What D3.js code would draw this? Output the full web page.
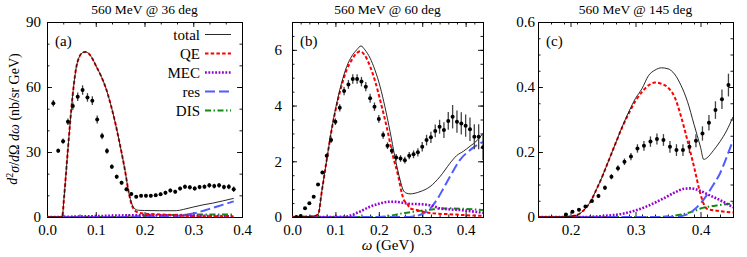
<!DOCTYPE html>
<html lang="en">
<head>
<meta charset="utf-8">
<title>560 MeV cross sections</title>
<script src="https://d3js.org/d3.v7.min.js"></script>
<style>
  body { margin: 0; background: #fff; }
  text { font-family: "Liberation Serif", "DejaVu Serif", serif; fill: #000; }
</style>
</head>
<body>
<script>

// ---- data ----
// experimental points: [omega, value, error]
var expA = [[0.013,52.5,1.5],[0.023,30.6,1.0],[0.033,35.0,1.2],[0.043,44.0,1.5],[0.053,51.2,1.8],[0.063,55.5,2.0],[0.073,58.6,2.2],[0.083,55.2,2.0],[0.093,53.7,2.0],[0.103,45.0,1.8],[0.113,37.4,1.5],[0.123,30.5,1.3],[0.133,23.2,1.1],[0.143,18.6,1.0],[0.153,15.8,0.9],[0.163,12.8,0.9],[0.173,10.6,0.8],[0.183,9.4,0.8],[0.193,9.8,0.8],[0.203,9.8,0.8],[0.213,9.8,0.8],[0.223,10.0,0.8],[0.233,10.5,0.8],[0.243,11.2,0.9],[0.253,12.2,0.9],[0.263,11.7,0.9],[0.273,13.1,0.9],[0.283,14.0,1.0],[0.293,13.7,1.0],[0.303,13.2,1.0],[0.313,13.8,1.0],[0.323,14.0,1.0],[0.333,14.6,1.1],[0.343,14.3,1.1],[0.353,14.6,1.1],[0.363,13.8,1.1],[0.373,14.0,1.2],[0.383,12.8,1.3]];

var expB = [[0.01,0.0,0.02],[0.02,0.04,0.02],[0.03,0.31,0.03],[0.04,0.49,0.03],[0.05,0.73,0.04],[0.06,1.17,0.05],[0.07,1.6,0.06],[0.08,2.2,0.08],[0.09,2.76,0.1],[0.10,3.42,0.12],[0.11,3.92,0.13],[0.12,4.52,0.15],[0.13,4.76,0.16],[0.14,4.95,0.17],[0.15,4.95,0.17],[0.16,4.86,0.17],[0.17,4.68,0.17],[0.18,4.26,0.16],[0.19,3.96,0.15],[0.20,3.52,0.14],[0.21,2.94,0.13],[0.22,2.56,0.12],[0.23,2.38,0.12],[0.24,2.14,0.12],[0.25,2.1,0.12],[0.26,2.04,0.12],[0.27,2.2,0.13],[0.28,2.25,0.14],[0.29,2.32,0.15],[0.30,2.52,0.17],[0.31,2.76,0.19],[0.32,2.86,0.2],[0.33,3.09,0.23],[0.34,3.24,0.25],[0.35,3.12,0.28],[0.36,3.45,0.32],[0.37,3.6,0.42],[0.38,3.42,0.4],[0.39,3.36,0.4],[0.40,3.28,0.4],[0.41,3.15,0.42],[0.42,2.88,0.45],[0.43,2.88,0.45],[0.44,2.5,0.45]];

var expC = [[0.193,0.008,0.004],[0.203,0.016,0.004],[0.213,0.022,0.004],[0.223,0.032,0.005],[0.233,0.049,0.005],[0.243,0.065,0.006],[0.253,0.09,0.007],[0.263,0.124,0.008],[0.273,0.15,0.009],[0.283,0.17,0.01],[0.293,0.186,0.011],[0.303,0.211,0.013],[0.313,0.219,0.015],[0.323,0.232,0.016],[0.333,0.24,0.017],[0.343,0.237,0.018],[0.353,0.216,0.018],[0.363,0.206,0.018],[0.373,0.206,0.018],[0.383,0.216,0.019],[0.393,0.235,0.02],[0.403,0.257,0.022],[0.413,0.29,0.024],[0.423,0.329,0.027],[0.433,0.362,0.03],[0.443,0.406,0.035]];

// model curves: [omega, value]
var totalA = [[0,0],[0.031,0],[0.035,9],[0.040,23],[0.045,37],[0.050,50],[0.055,61],[0.060,69],[0.065,73.2],[0.070,75.3],[0.078,76.2],[0.085,75.6],[0.092,73.5],[0.100,70],[0.110,65.5],[0.120,60],[0.130,52.5],[0.140,43.5],[0.150,33],[0.160,21.5],[0.168,11],[0.174,6],[0.180,3.8],[0.188,3.1],[0.200,3.0],[0.230,2.9],[0.265,2.9],[0.280,3.5],[0.300,4.6],[0.320,5.6],[0.340,6.4],[0.360,7.4],[0.383,8.6]];
var qeA = [[0,0],[0.031,0],[0.035,9],[0.040,23],[0.045,37],[0.050,50],[0.055,61],[0.060,69],[0.065,73.2],[0.070,75.3],[0.078,76.2],[0.085,75.6],[0.092,73.5],[0.100,70],[0.110,65.5],[0.120,60],[0.130,52.5],[0.140,43.5],[0.150,33],[0.160,21.5],[0.168,11],[0.174,5.5],[0.180,3.0],[0.188,2.0],[0.200,1.6],[0.220,1.3],[0.250,1.0],[0.280,0.6],[0.310,0.4],[0.350,0.3],[0.383,0.2]];
var mecA = [[0,0],[0.03,0.05],[0.06,0.2],[0.1,0.4],[0.15,0.7],[0.2,0.85],[0.25,0.8],[0.3,0.6],[0.35,0.4],[0.383,0.3]];
var resA = [[0,0],[0.2,0],[0.24,0.2],[0.27,0.6],[0.3,1.6],[0.33,3.5],[0.36,5.6],[0.383,7.2]];
var disA = [[0,0],[0.15,0.05],[0.2,0.4],[0.25,0.9],[0.3,1.1],[0.35,1.2],[0.383,1.2]];

var totalB = [[0,0],[0.04,0.02],[0.055,0.05],[0.061,0.13],[0.068,0.85],[0.08,2.05],[0.091,3.12],[0.103,4.08],[0.114,4.8],[0.126,5.4],[0.138,5.78],[0.149,6.0],[0.159,6.14],[0.168,6.0],[0.18,5.7],[0.191,5.28],[0.203,4.68],[0.214,3.96],[0.226,3.06],[0.237,2.16],[0.249,1.33],[0.256,0.97],[0.263,0.86],[0.272,0.83],[0.295,0.91],[0.318,1.09],[0.341,1.45],[0.364,1.93],[0.379,2.2],[0.395,2.36],[0.41,2.54],[0.426,2.74],[0.44,3.0]];
var qeB = [[0,0],[0.04,0.02],[0.055,0.05],[0.061,0.13],[0.068,0.85],[0.08,2.05],[0.091,3.1],[0.103,4.02],[0.114,4.7],[0.126,5.28],[0.138,5.65],[0.149,5.88],[0.157,5.95],[0.168,5.8],[0.18,5.4],[0.192,4.85],[0.203,4.2],[0.218,3.24],[0.233,2.16],[0.245,1.45],[0.253,0.85],[0.258,0.6],[0.265,0.49],[0.272,0.31],[0.288,0.25],[0.303,0.19],[0.326,0.13],[0.364,0.1],[0.395,0.07],[0.44,0.04]];
var mecB = [[0,0],[0.1,0],[0.126,0.02],[0.153,0.17],[0.18,0.37],[0.203,0.49],[0.226,0.55],[0.249,0.53],[0.272,0.47],[0.295,0.46],[0.318,0.42],[0.341,0.31],[0.365,0.27],[0.387,0.25],[0.41,0.21],[0.44,0.15]];
var resB = [[0,0],[0.27,0],[0.29,0.05],[0.303,0.13],[0.318,0.3],[0.333,0.6],[0.349,1.03],[0.364,1.45],[0.387,2.05],[0.41,2.4],[0.433,2.64],[0.44,2.7]];
var disB = [[0,0],[0.2,0],[0.23,0.05],[0.249,0.12],[0.272,0.17],[0.295,0.22],[0.318,0.26],[0.341,0.3],[0.364,0.31],[0.4,0.29],[0.44,0.25]];

var totalC = [[0.15,0],[0.19,0],[0.2,0.002],[0.21,0.006],[0.22,0.02],[0.23,0.045],[0.24,0.085],[0.25,0.13],[0.26,0.18],[0.27,0.23],[0.28,0.28],[0.29,0.325],[0.30,0.365],[0.31,0.395],[0.32,0.435],[0.33,0.452],[0.34,0.459],[0.35,0.456],[0.36,0.44],[0.37,0.405],[0.38,0.355],[0.39,0.285],[0.40,0.215],[0.405,0.177],[0.41,0.182],[0.42,0.205],[0.43,0.232],[0.44,0.265],[0.45,0.308]];
var qeC = [[0.15,0],[0.19,0],[0.2,0.002],[0.21,0.006],[0.22,0.02],[0.23,0.045],[0.24,0.085],[0.25,0.13],[0.26,0.18],[0.27,0.23],[0.28,0.278],[0.29,0.32],[0.30,0.357],[0.31,0.385],[0.32,0.405],[0.33,0.414],[0.34,0.41],[0.35,0.398],[0.36,0.37],[0.37,0.31],[0.38,0.235],[0.39,0.155],[0.40,0.07],[0.405,0.04],[0.41,0.025],[0.43,0.018],[0.45,0.014]];
var mecC = [[0.15,0],[0.22,0],[0.25,0.003],[0.28,0.01],[0.30,0.02],[0.32,0.035],[0.34,0.054],[0.36,0.075],[0.375,0.087],[0.385,0.088],[0.40,0.08],[0.415,0.066],[0.43,0.052],[0.45,0.03]];
var resC = [[0.15,0],[0.36,0],[0.375,0.005],[0.39,0.022],[0.40,0.042],[0.41,0.068],[0.42,0.1],[0.43,0.134],[0.44,0.183],[0.45,0.236]];
var disC = [[0.15,0],[0.33,0],[0.36,0.004],[0.38,0.012],[0.39,0.018],[0.40,0.026],[0.41,0.031],[0.43,0.037],[0.45,0.042]];

// titles and ticks
var titles = ["560 MeV @ 36 deg", "560 MeV @ 60 deg", "560 MeV @ 145 deg"];
var panelTags = ["(a)", "(b)", "(c)"];
var xTicksA = [0, 0.1, 0.2, 0.3, 0.4], xLabelsA = ["0.0", "0.1", "0.2", "0.3", "0.4"];
var xTicksB = [0, 0.1, 0.2, 0.3, 0.4], xLabelsB = ["0.0", "0.1", "0.2", "0.3", "0.4"];
var xTicksC = [0.2, 0.3, 0.4], xLabelsC = ["0.2", "0.3", "0.4"];
var yTicksA = [0, 30, 60, 90], yLabelsA = ["0", "30", "60", "90"];
var yTicksB = [0, 2, 4, 6], yLabelsB = ["0", "2", "4", "6"];
var yTicksC = [0, 0.2, 0.4, 0.6], yLabelsC = ["0", "0.2", "0.4", "0.6"];
var legendNames = ["total", "QE", "MEC", "res", "DIS"];

// ---- drawing ----
var width = 747, height = 257;
var plotTop = 22, plotBottom = 217;

var styles = {
  total: {color: "#111", w: 0.9, dash: null},
  QE:    {color: "#ff0000", w: 2, dash: "3.5,2.2"},
  MEC:   {color: "#9400d3", w: 2.6, dash: "1.8,1.6"},
  res:   {color: "#4f5cff", w: 2, dash: "10,4"},
  DIS:   {color: "#138a13", w: 2, dash: "6,2.5,1.5,2.5"}
};

var panels = [
  {x0: 47, x1: 242, xdom: [0, 0.4], ydom: [0, 90], xt: xTicksA, xl: xLabelsA, xminor: 0.1/3,
   yt: yTicksA, yl: yLabelsA, yminor: 10, ypad: 6, exp: expA,
   curves: {total: totalA, QE: qeA, MEC: mecA, res: resA, DIS: disA}},
  {x0: 292, x1: 483, xdom: [0, 0.44], ydom: [0, 7], xt: xTicksB, xl: xLabelsB, xminor: 0.02,
   yt: yTicksB, yl: yLabelsB, yminor: 0.5, ypad: 10, exp: expB,
   curves: {total: totalB, QE: qeB, MEC: mecB, res: resB, DIS: disB}},
  {x0: 538, x1: 733, xdom: [0.15, 0.45], ydom: [0, 0.6], xt: xTicksC, xl: xLabelsC, xminor: 0.02,
   yt: yTicksC, yl: yLabelsC, yminor: 0.05, ypad: 3, exp: expC,
   curves: {total: totalC, QE: qeC, MEC: mecC, res: resC, DIS: disC}}
];

var svg = d3.select("body").append("svg")
  .attr("width", width)
  .attr("height", height);

function minorValues(dom, step) {
  var out = [];
  for (var v = dom[0]; v <= dom[1] + 1e-9; v += step) out.push(+v.toFixed(6));
  return out;
}

panels.forEach(function(p, i) {
  var x = d3.scaleLinear().domain(p.xdom).range([p.x0, p.x1]);
  var y = d3.scaleLinear().domain(p.ydom).range([plotBottom, plotTop]);
  var g = svg.append("g");

  // clip
  svg.append("clipPath").attr("id", "clip" + i)
    .append("rect").attr("x", p.x0).attr("y", plotTop)
    .attr("width", p.x1 - p.x0).attr("height", plotBottom - plotTop);

  // minor ticks on all four sides
  var xm = minorValues(p.xdom, p.xminor), ym = minorValues(p.ydom, p.yminor);
  g.append("g").attr("transform", "translate(0," + plotBottom + ")")
    .call(d3.axisBottom(x).tickValues(xm).tickSize(-2.5).tickFormat(""));
  g.append("g").attr("transform", "translate(0," + plotTop + ")")
    .call(d3.axisTop(x).tickValues(xm).tickSize(-2.5).tickFormat(""));
  g.append("g").attr("transform", "translate(" + p.x0 + ",0)")
    .call(d3.axisLeft(y).tickValues(ym).tickSize(-2.5).tickFormat(""));
  g.append("g").attr("transform", "translate(" + p.x1 + ",0)")
    .call(d3.axisRight(y).tickValues(ym).tickSize(-2.5).tickFormat(""));

  // major ticks + labels
  g.append("g").attr("transform", "translate(0," + plotBottom + ")")
    .call(d3.axisBottom(x).tickValues(p.xt).tickSize(-5).tickPadding(7)
      .tickFormat(function(d, k) { return p.xl[k]; }));
  g.append("g").attr("transform", "translate(0," + plotTop + ")")
    .call(d3.axisTop(x).tickValues(p.xt).tickSize(-5).tickFormat(""));
  g.append("g").attr("transform", "translate(" + p.x0 + ",0)")
    .call(d3.axisLeft(y).tickValues(p.yt).tickSize(-5).tickPadding(p.ypad)
      .tickFormat(function(d, k) { return p.yl[k]; }));
  g.append("g").attr("transform", "translate(" + p.x1 + ",0)")
    .call(d3.axisRight(y).tickValues(p.yt).tickSize(-5).tickFormat(""));

  g.selectAll(".domain").remove();
  g.selectAll(".tick line").attr("stroke", "#000").attr("stroke-width", 0.9);
  g.selectAll(".tick text").style("font-family", "Liberation Serif").style("font-size", "15px").attr("fill", "#000");

  // frame
  g.append("rect")
    .attr("x", p.x0 + 0.5).attr("y", plotTop + 0.5)
    .attr("width", p.x1 - p.x0).attr("height", plotBottom - plotTop)
    .attr("fill", "none").attr("stroke", "#000").attr("stroke-width", 1);

  // model curves
  var line = d3.line()
    .x(function(d) { return x(d[0]); })
    .y(function(d) { return y(d[1]); })
    .curve(d3.curveMonotoneX);

  var cg = g.append("g").attr("clip-path", "url(#clip" + i + ")");
  ["DIS", "res", "MEC", "QE", "total"].forEach(function(k) {
    cg.append("path")
      .attr("d", line(p.curves[k]))
      .attr("fill", "none")
      .attr("stroke", styles[k].color)
      .attr("stroke-width", styles[k].w)
      .attr("stroke-dasharray", styles[k].dash);
  });

  // experimental points with error bars
  cg.selectAll(".err").data(p.exp).enter().append("line")
    .attr("x1", function(d) { return x(d[0]); })
    .attr("x2", function(d) { return x(d[0]); })
    .attr("y1", function(d) { return y(d[1] - d[2]); })
    .attr("y2", function(d) { return y(d[1] + d[2]); })
    .attr("stroke", "#444").attr("stroke-width", 1.3);
  cg.selectAll(".pt").data(p.exp).enter().append("circle")
    .attr("cx", function(d) { return x(d[0]); })
    .attr("cy", function(d) { return y(d[1]); })
    .attr("r", 2)
    .attr("fill", "#000");

  // title and tag
  svg.append("text")
    .attr("x", (p.x0 + p.x1) / 2).attr("y", 14)
    .attr("text-anchor", "middle")
    .style("font-size", "13.5px")
    .text(titles[i]);
  svg.append("text")
    .attr("x", p.x0 + 8).attr("y", 46)
    .style("font-size", "15px")
    .text(panelTags[i]);

  // legend in the first panel
  if (i === 0) {
    legendNames.forEach(function(name, k) {
      var ly = 34.5 + k * 19;
      svg.append("text")
        .attr("x", 200).attr("y", ly + 5)
        .attr("text-anchor", "end")
        .style("font-size", "15px")
        .text(name);
      svg.append("line")
        .attr("x1", 205).attr("x2", 231)
        .attr("y1", ly).attr("y2", ly)
        .attr("stroke", styles[name].color)
        .attr("stroke-width", styles[name].w)
        .attr("stroke-dasharray", styles[name].dash);
    });
  }
});

// axis titles
var ylab = svg.append("text")
  .attr("transform", "translate(17,119) rotate(-90)")
  .attr("text-anchor", "middle")
  .style("font-size", "14px");
ylab.append("tspan").style("font-style", "italic").text("d");
ylab.append("tspan").attr("dy", "-0.45em").style("font-size", "10px").text("2");
ylab.append("tspan").attr("dy", "0.45em").style("font-style", "italic").text("σ");
ylab.append("tspan").text("/");
ylab.append("tspan").style("font-style", "italic").text("d");
ylab.append("tspan").text("Ω ");
ylab.append("tspan").style("font-style", "italic").text("dω");
ylab.append("tspan").text(" (nb/sr GeV)");

var xlab = svg.append("text")
  .attr("x", 388).attr("y", 250)
  .attr("text-anchor", "middle")
  .style("font-size", "15px");
xlab.append("tspan").style("font-style", "italic").text("ω");
xlab.append("tspan").text(" (GeV)");

</script>
</body>
</html>
